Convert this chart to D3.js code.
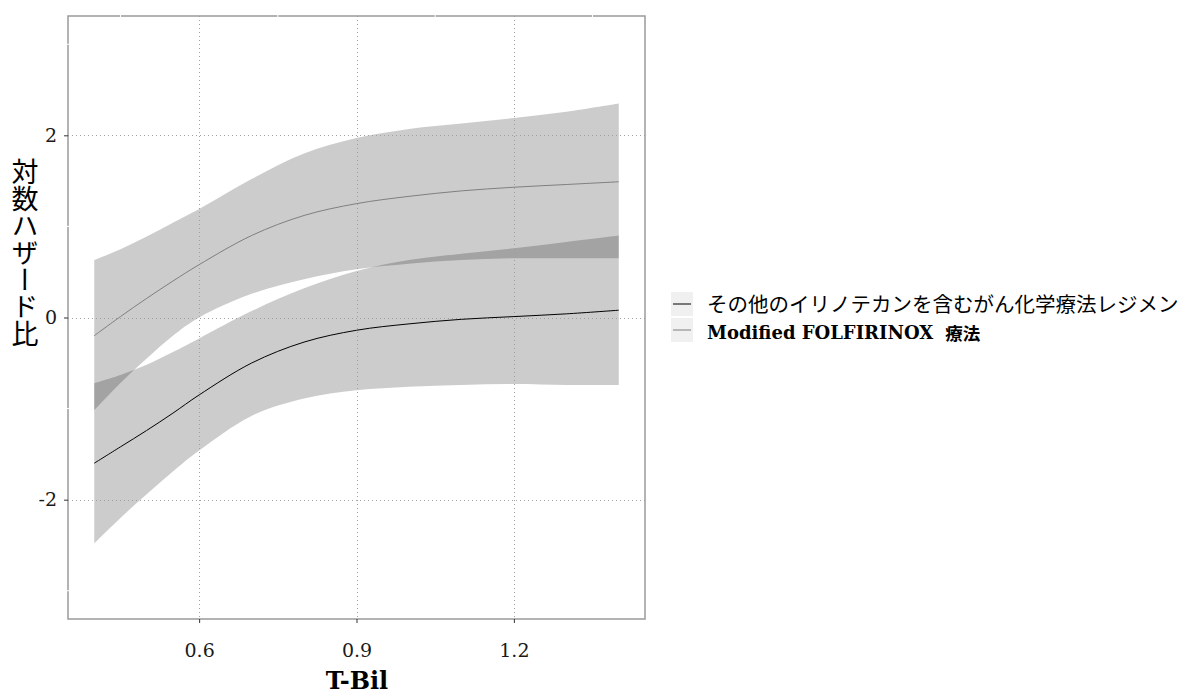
<!DOCTYPE html>
<html><head><meta charset="utf-8">
<script src="https://cdn.jsdelivr.net/npm/d3@7"></script>
<style>
html,body{margin:0;padding:0;background:#fff;}
svg{display:block;}
</style>
</head><body>
<svg id="chart" width="1204" height="696"></svg>
<script>
// ---- data ----
const xVals = [0.4,0.45,0.5,0.55,0.6,0.7,0.8,0.9,1.0,1.1,1.2,1.3,1.4];
// その他のイリノテカンを含むがん化学療法レジメン
const otherFit   = [-1.60,-1.42,-1.24,-1.05,-0.85,-0.50,-0.27,-0.14,-0.07,-0.02,0.01,0.04,0.08];
const otherLower = [-2.48,-2.20,-1.94,-1.69,-1.46,-1.08,-0.89,-0.80,-0.76,-0.74,-0.73,-0.74,-0.74];
const otherUpper = [-0.72,-0.63,-0.52,-0.38,-0.23,0.07,0.32,0.51,0.63,0.70,0.76,0.83,0.90];
// Modified FOLFIRINOX 療法
const folfFit   = [-0.20,0.01,0.21,0.40,0.58,0.90,1.12,1.25,1.33,1.39,1.43,1.46,1.49];
const folfLower = [-1.02,-0.72,-0.45,-0.20,0.00,0.26,0.42,0.53,0.59,0.63,0.65,0.65,0.65];
const folfUpper = [0.63,0.75,0.89,1.04,1.19,1.52,1.80,1.97,2.07,2.13,2.19,2.26,2.35];

const seriesNames = ["その他のイリノテカンを含むがん化学療法レジメン", "Modified FOLFIRINOX"];
const seriesSuffix = ["", "療法"];
const xTicks = [0.6, 0.9, 1.2];
const xTickLabels = ["0.6", "0.9", "1.2"];
const yTicks = [-2, 0, 2];
const yTickLabels = ["-2", "0", "2"];
const xMinor = [0.45, 0.75, 1.05, 1.35];
const yMinor = [-3, -1, 1, 3];
const xTitle = "T-Bil";
const yTitle = "対数ハザード比";

// ---- layout ----
const L = 68, R = 645, T = 16, B = 619;
const svg = d3.select("#chart");
const x = d3.scaleLinear().domain([0.35, 1.45]).range([L, R]);
const y = d3.scaleLinear().domain([-3.31, 3.31]).range([B, T]);

const series = [
  {fit: otherFit, lo: otherLower, hi: otherUpper, color: "#000000"},
  {fit: folfFit, lo: folfLower, hi: folfUpper, color: "#7f7f7f"}
];

const curve = d3.curveCatmullRom.alpha(0.5);
const area = d3.area().curve(curve)
  .x(d => x(d.x)).y0(d => y(d.lo)).y1(d => y(d.hi));
const line = d3.line().curve(curve).x(d => x(d.x)).y(d => y(d.v));

// ribbons
series.forEach(s => {
  const pts = xVals.map((xv, i) => ({x: xv, lo: s.lo[i], hi: s.hi[i]}));
  svg.append("path").attr("d", area(pts))
    .attr("fill", "#000").attr("fill-opacity", 0.2)
    .attr("stroke", "none");
});

// major grid (dotted)
const grid = svg.append("g").attr("stroke", "#a0a0a0").attr("stroke-width", 1)
  .attr("stroke-dasharray", "1,3");
xTicks.forEach(t => grid.append("line")
  .attr("x1", Math.round(x(t)) + 0.5).attr("x2", Math.round(x(t)) + 0.5)
  .attr("y1", T).attr("y2", B));
yTicks.forEach(t => grid.append("line")
  .attr("y1", Math.round(y(t)) + 0.5).attr("y2", Math.round(y(t)) + 0.5)
  .attr("x1", L).attr("x2", R));

// lines
series.forEach(s => {
  const pts = xVals.map((xv, i) => ({x: xv, v: s.fit[i]}));
  svg.append("path").attr("d", line(pts))
    .attr("fill", "none").attr("stroke", s.color).attr("stroke-width", 1);
});

// panel border
svg.append("rect").attr("x", L).attr("y", T).attr("width", R - L).attr("height", B - T)
  .attr("fill", "none").attr("stroke", "#9a9a9a").attr("stroke-width", 1.5);

// white minor marks breaking the top / left border
xMinor.forEach(t => svg.append("line")
  .attr("x1", x(t)).attr("x2", x(t)).attr("y1", T - 1).attr("y2", T + 1)
  .attr("stroke", "#fff").attr("stroke-width", 1));
yMinor.forEach(t => svg.append("line")
  .attr("y1", y(t)).attr("y2", y(t)).attr("x1", L - 1).attr("x2", L + 1)
  .attr("stroke", "#fff").attr("stroke-width", 1));

// axes
const xAxis = d3.axisBottom(x).tickValues(xTicks)
  .tickFormat((d, i) => xTickLabels[i]).tickSize(4).tickPadding(21);
const gx = svg.append("g").attr("transform", `translate(0,${B})`).call(xAxis);
gx.select(".domain").remove();
gx.selectAll(".tick line").attr("stroke", "#333");
gx.selectAll(".tick text").attr("font-family", "DejaVu Serif").attr("font-size", 19)
  .attr("fill", "#1a1a1a");

const yAxis = d3.axisLeft(y).tickValues(yTicks)
  .tickFormat((d, i) => yTickLabels[i]).tickSize(4).tickPadding(7);
const gy = svg.append("g").attr("transform", `translate(${L},0)`).call(yAxis);
gy.select(".domain").remove();
gy.selectAll(".tick line").attr("stroke", "#333");
gy.selectAll(".tick text").attr("font-family", "DejaVu Serif").attr("font-size", 19)
  .attr("fill", "#1a1a1a");

// axis titles
svg.append("text").attr("x", 357).attr("y", 689)
  .attr("text-anchor", "middle").attr("font-family", "DejaVu Serif")
  .attr("font-weight", "bold").attr("font-size", 24).attr("fill", "#000")
  .text(xTitle);

svg.append("text").attr("x", 25).attr("y", 158)
  .attr("font-family", "Noto Sans CJK JP").attr("font-size", 27).attr("fill", "#000")
  .style("writing-mode", "vertical-rl")
  .text(yTitle);

// legend
const lg = svg.append("g");
const keyX = 671, keyW = 22, keyH = 24;
const keyYs = [292, 318];
const textYs = [303, 331.5];
series.forEach((s, i) => {
  const ky = keyYs[i];
  lg.append("rect").attr("x", keyX).attr("y", ky).attr("width", keyW).attr("height", keyH)
    .attr("fill", "#f0f0f0");
  lg.append("line").attr("x1", keyX + 2).attr("x2", keyX + keyW - 2)
    .attr("y1", ky + keyH / 2).attr("y2", ky + keyH / 2)
    .attr("stroke", s.color).attr("stroke-width", 1);
  const t = lg.append("text").attr("x", 707).attr("y", textYs[i])
    .attr("dominant-baseline", "central").attr("fill", "#000");
  if (i === 0) {
    t.attr("font-family", "Noto Sans CJK JP").attr("font-size", 20.5).text(seriesNames[i]);
  } else {
    t.append("tspan").attr("font-family", "DejaVu Serif").attr("font-weight", "bold")
      .attr("font-size", 18).text(seriesNames[i]);
    t.append("tspan").attr("dx", 12).attr("font-family", "Noto Sans CJK JP")
      .attr("font-weight", "bold").attr("font-size", 17.5).text(seriesSuffix[i]);
  }
});
</script>
</body></html>
